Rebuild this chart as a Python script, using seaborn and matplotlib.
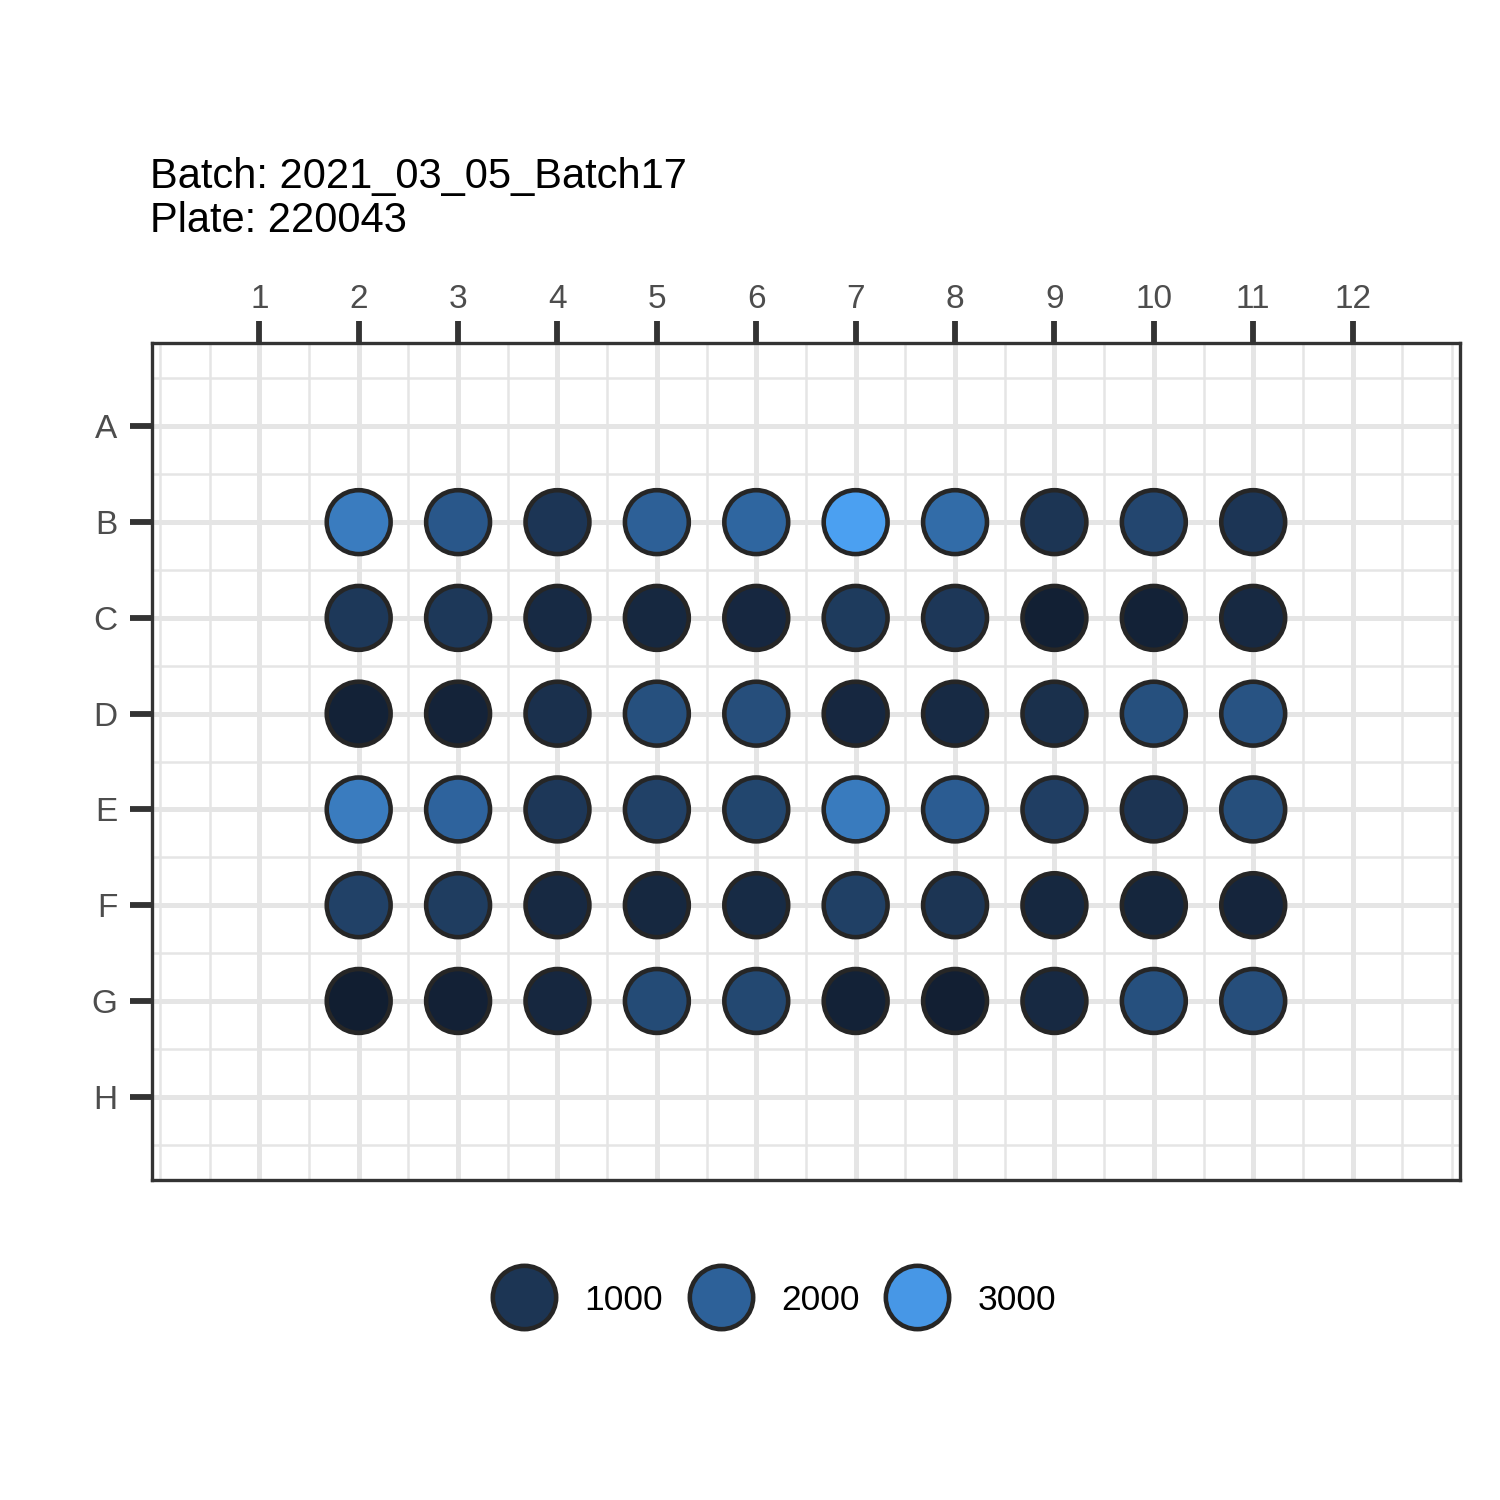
import numpy as np
import pandas as pd
import matplotlib
matplotlib.use("Agg")
import matplotlib.pyplot as plt
from matplotlib.colors import LinearSegmentedColormap, Normalize
from matplotlib.lines import Line2D
import seaborn as sns

# plate layout
row_labels = ["A", "B", "C", "D", "E", "F", "G", "H"]
col_labels = list(range(1, 13))
used_rows = ["B", "C", "D", "E", "F", "G"]
used_cols = list(range(2, 12))

# well values, one list per row, columns 2..11
row_B = [2500, 1780, 1010, 1970, 2090, 3150, 2200, 1000, 1390, 1010]
row_C = [1080, 1080, 760, 700, 690, 1130, 1060, 520, 560, 740]
row_D = [560, 600, 900, 1620, 1560, 690, 760, 880, 1620, 1680]
row_E = [2500, 2050, 1060, 1280, 1380, 2480, 1900, 1220, 980, 1580]
row_F = [1280, 1180, 740, 700, 780, 1250, 1000, 700, 660, 640]
row_G = [480, 540, 680, 1500, 1420, 560, 500, 740, 1620, 1560]

legend_values = [1000, 2000, 3000]

title_lines = ["Batch: 2021_03_05_Batch17", "Plate: 220043"]

rows_values = [row_B, row_C, row_D, row_E, row_F, row_G]
records = []
for r, vals in zip(used_rows, rows_values):
    for c, v in zip(used_cols, vals):
        records.append({"row": row_labels.index(r) + 1, "col": c, "value": v})
df = pd.DataFrame(records)

# colour scale
vmin, vmax = 450, 3200
norm = Normalize(vmin=vmin, vmax=vmax)
anchors = [(450, "#111d30"), (1000, "#1c3554"), (2000, "#2d6199"),
           (3000, "#4797e6"), (3200, "#4ca2f4")]
cmap = LinearSegmentedColormap.from_list(
    "plate", [((v - vmin) / (vmax - vmin), c) for v, c in anchors])

sns.set_style("white")
plt.rcParams["font.family"] = ["Liberation Sans", "DejaVu Sans"]

fig = plt.figure(figsize=(5, 5), dpi=300)
ax = fig.add_axes([0.1013, 0.2133, 0.872, 0.558])

edge = "#262626"
sns.scatterplot(data=df, x="col", y="row", hue="value", palette=cmap,
                hue_norm=norm, s=235, edgecolor=edge, linewidth=1.1,
                legend=False, ax=ax, zorder=3)

# grid
ax.set_xlim(6.5 - 6.58, 6.5 + 6.58)
ax.set_ylim(4.5 + 4.37, 4.5 - 4.37)
ax.set_xticks(col_labels)
ax.set_xticklabels([str(c) for c in col_labels])
ax.set_yticks(range(1, 9))
ax.set_yticklabels(row_labels)
ax.set_xticks([0] + [c + 0.5 for c in range(0, 13)] + [13], minor=True)
ax.set_yticks([r + 0.5 for r in range(0, 9)], minor=True)
ax.grid(which="major", color="#e5e5e5", linewidth=1.2, zorder=0)
ax.grid(which="minor", color="#e5e5e5", linewidth=0.6, zorder=0)
ax.set_axisbelow(True)

ax.xaxis.tick_top()
ax.tick_params(axis="x", which="major", top=True, bottom=False)
ax.tick_params(axis="y", which="major", left=True, right=False)
ax.tick_params(axis="both", which="major", length=5.3, width=1.4,
               color="#333333", labelcolor="#4d4d4d", labelsize=8)
ax.tick_params(axis="x", which="major", pad=1.4)
ax.tick_params(axis="y", which="major", pad=3)
ax.tick_params(axis="both", which="minor", length=0)
ax.set_xlabel("")
ax.set_ylabel("")
for sp in ax.spines.values():
    sp.set_visible(True)
    sp.set_color("#333333")
    sp.set_linewidth(0.8)

fig.text(0.1, 0.895, "\n".join(title_lines), ha="left", va="top",
         fontsize=10, color="black", linespacing=1.1)

# legend
handles = [Line2D([], [], marker="o", linestyle="", markersize=15.2,
                  markerfacecolor=cmap(norm(v)), markeredgecolor=edge,
                  markeredgewidth=1.1) for v in legend_values]
fig.legend(handles, [str(v) for v in legend_values], loc="center",
           bbox_to_anchor=(0.518, 0.1333), ncol=3, frameon=False,
           fontsize=8.5, handletextpad=0.95, columnspacing=0.88,
           handlelength=1.5, labelcolor="black")

fig.savefig("out.png", dpi=300, facecolor="white")
